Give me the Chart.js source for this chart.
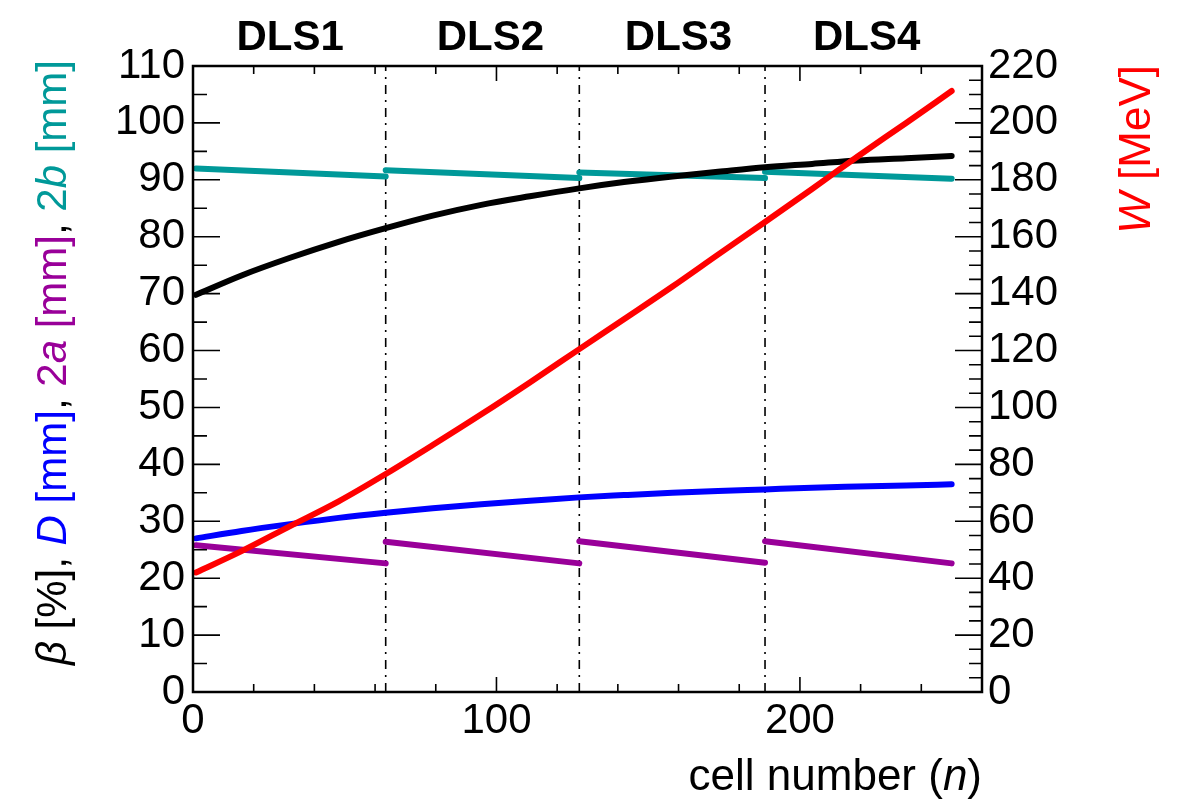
<!DOCTYPE html>
<html>
<head>
<meta charset="utf-8">
<script src="https://cdn.jsdelivr.net/npm/chart.js@4"></script>
<style>
  body { margin: 0; background: #fff; }
  #wrap { width: 1181px; height: 801px; }
</style>
</head>
<body>
<div id="wrap"><canvas id="c" width="1181" height="801"></canvas></div>
<script>
// cell number samples for the smooth curves
const cellN = [1, 16, 32, 48, 63.5, 79, 95, 111, 127.3, 142, 158, 173, 188.5, 204, 219, 235, 250];
const betaPct = [69.8, 73.2, 76.3, 79.1, 81.5, 83.7, 85.6, 87.1, 88.5, 89.6, 90.6, 91.4, 92.2, 92.8, 93.4, 93.8, 94.2];
const diamD = [27.0, 28.3, 29.5, 30.6, 31.5, 32.3, 33.0, 33.6, 34.2, 34.6, 35.0, 35.3, 35.6, 35.9, 36.1, 36.3, 36.5];
const energyW = [42, 49.5, 58.3, 67.0, 76.6, 86.8, 97.6, 108.8, 120.5, 131, 142.5, 153.7, 165.2, 176.8, 188.2, 200, 211.2];

// per-section values (DLS1..DLS4)
const sections = ["DLS1", "DLS2", "DLS3", "DLS4"];
const secStart = [1, 63.5, 127.3, 188.5];
const secEnd = [63.5, 127.3, 188.5, 250];
const aper2aStart = [25.8, 26.4, 26.5, 26.5];
const aper2aEnd = [22.6, 22.6, 22.7, 22.6];
const out2bStart = [92.0, 91.7, 91.3, 91.4];
const out2bEnd = [90.6, 90.3, 90.3, 90.2];
const dlsEdges = [63.5, 127.3, 188.5];
const labelAt = [32, 98, 160, 222];

const xTicks = [0, 100, 200];
const yTicks = [0, 10, 20, 30, 40, 50, 60, 70, 80, 90, 100, 110];
const wTicks = [0, 20, 40, 60, 80, 100, 120, 140, 160, 180, 200, 220];

const FONT = "'Liberation Sans', Arial, Helvetica, sans-serif";
const RED = "#ff0000", BLUE = "#0000ff", PURPLE = "#990099", TEAL = "#009999";

const pts = (xs, ys) => xs.map((x, i) => ({ x, y: ys[i] }));

const datasets = [];
const lineStyle = { pointRadius: 0, borderWidth: 6, borderCapStyle: "round", fill: false };

datasets.push({ ...lineStyle, label: "W", data: pts(cellN, energyW), borderColor: RED, yAxisID: "yW", order: 0, cubicInterpolationMode: "monotone" });
sections.forEach((s, i) => {
  datasets.push({ ...lineStyle, label: "2a " + s, data: [{ x: secStart[i], y: aper2aStart[i] }, { x: secEnd[i], y: aper2aEnd[i] }], borderColor: PURPLE, yAxisID: "y", order: 1 });
});
datasets.push({ ...lineStyle, label: "D", data: pts(cellN, diamD), borderColor: BLUE, yAxisID: "y", order: 2, cubicInterpolationMode: "monotone" });
datasets.push({ ...lineStyle, label: "beta", data: pts(cellN, betaPct), borderColor: "#000", yAxisID: "y", order: 3, cubicInterpolationMode: "monotone" });
sections.forEach((s, i) => {
  datasets.push({ ...lineStyle, label: "2b " + s, data: [{ x: secStart[i], y: out2bStart[i] }, { x: secEnd[i], y: out2bEnd[i] }], borderColor: TEAL, yAxisID: "y", order: 4 });
});
dlsEdges.forEach((e) => {
  datasets.push({ label: "edge", data: [{ x: e, y: 0 }, { x: e, y: 110 }], borderColor: "#000", borderWidth: 1.6, borderDash: [9, 6, 2, 6], pointRadius: 0, yAxisID: "y", order: 5 });
});

// frame, inward ticks, titles and section labels
const decor = {
  id: "decor",
  afterDraw(chart) {
    const ctx = chart.ctx, a = chart.chartArea;
    const xs = chart.scales.x, ys = chart.scales.y, ws = chart.scales.yW;
    ctx.save();
    ctx.strokeStyle = "#000";
    ctx.lineWidth = 1.6;
    ctx.beginPath();
    // x ticks every 20, long at 100
    for (let v = 0; v <= 260; v += 20) {
      const px = xs.getPixelForValue(v);
      const len = v % 100 === 0 ? 15 : 8;
      ctx.moveTo(px, a.bottom); ctx.lineTo(px, a.bottom - len);
      ctx.moveTo(px, a.top); ctx.lineTo(px, a.top + len);
    }
    for (let v = 0; v <= 110; v += 5) {
      const py = ys.getPixelForValue(v);
      const len = v % 10 === 0 ? 27 : 14;
      ctx.moveTo(a.left, py); ctx.lineTo(a.left + len, py);
    }
    for (let v = 0; v <= 220; v += 5) {
      const py = ws.getPixelForValue(v);
      const len = v % 20 === 0 ? 27 : 13;
      ctx.moveTo(a.right, py); ctx.lineTo(a.right - len, py);
    }
    ctx.stroke();
    ctx.lineWidth = 2.5;
    ctx.strokeRect(a.left, a.top, a.right - a.left, a.bottom - a.top);

    // section labels
    ctx.fillStyle = "#000";
    ctx.font = "bold 42px " + FONT;
    ctx.textAlign = "center";
    ctx.textBaseline = "alphabetic";
    sections.forEach((s, i) => ctx.fillText(s, xs.getPixelForValue(labelAt[i]), 50));

    // x title, right aligned
    const xParts = [["cell number (", "", "#000"], ["n", "italic ", "#000"], [")", "", "#000"]];
    drawParts(ctx, xParts, 44);
    ctx.restore();

    // left title rotated
    const yParts = [
      ["\u03b2", "italic ", "#000"], [" [%], ", "", "#000"],
      ["D", "italic ", BLUE], [" [mm]", "", BLUE], [", ", "", "#000"],
      ["2", "", PURPLE], ["a", "italic ", PURPLE], [" [mm]", "", PURPLE], [", ", "", "#000"],
      ["2", "", TEAL], ["b", "italic ", TEAL], [" [mm]", "", TEAL]
    ];
    drawRotated(ctx, yParts, 42, 66, 60);
    const wParts = [["W", "italic ", RED], [" [MeV]", "", RED]];
    drawRotated(ctx, wParts, 44, 1150, 65);

    function widthOf(parts, size) {
      let w = 0;
      parts.forEach(([t, st]) => { ctx.font = st + size + "px " + FONT; w += ctx.measureText(t).width; });
      return w;
    }
    function drawParts(ctx, parts, size) {
      const total = widthOf(parts, size);
      let x = a.right - total;
      ctx.textAlign = "left";
      parts.forEach(([t, st, col]) => {
        ctx.font = st + size + "px " + FONT;
        ctx.fillStyle = col;
        ctx.fillText(t, x, 790);
        x += ctx.measureText(t).width;
      });
    }
    function drawRotated(ctx, parts, size, baseX, topY) {
      const total = widthOf(parts, size);
      ctx.save();
      ctx.translate(baseX, topY + total);
      ctx.rotate(-Math.PI / 2);
      ctx.textAlign = "left";
      ctx.textBaseline = "alphabetic";
      let x = 0;
      parts.forEach(([t, st, col]) => {
        ctx.font = st + size + "px " + FONT;
        ctx.fillStyle = col;
        ctx.fillText(t, x, 0);
        x += ctx.measureText(t).width;
      });
      ctx.restore();
    }
  }
};

const tickFont = { family: FONT, size: 42 };

new Chart(document.getElementById("c"), {
  type: "line",
  data: { datasets },
  options: {
    responsive: false,
    animation: false,
    layout: { padding: { top: 66, left: 0, right: 0, bottom: 0 } },
    plugins: { legend: { display: false }, tooltip: { enabled: false } },
    scales: {
      x: {
        type: "linear", min: 0, max: 260,
        grid: { display: false, drawTicks: false },
        border: { display: false },
        afterBuildTicks: (s) => { s.ticks = xTicks.map((v) => ({ value: v })); },
        afterFit: (s) => { s.height = 109; },
        ticks: { font: tickFont, color: "#000", padding: 4, maxRotation: 0, autoSkip: false }
      },
      y: {
        position: "left", min: 0, max: 110,
        grid: { display: false, drawTicks: false },
        border: { display: false },
        afterBuildTicks: (s) => { s.ticks = yTicks.map((v) => ({ value: v })); },
        afterFit: (s) => { s.width = 193; },
        ticks: { font: tickFont, color: "#000", padding: 8, autoSkip: false }
      },
      yW: {
        position: "right", min: 0, max: 220,
        grid: { display: false, drawTicks: false },
        border: { display: false },
        afterBuildTicks: (s) => { s.ticks = wTicks.map((v) => ({ value: v })); },
        afterFit: (s) => { s.width = 199; },
        ticks: { font: tickFont, color: "#000", padding: 6, autoSkip: false }
      }
    }
  },
  plugins: [decor]
});
</script>
</body>
</html>
